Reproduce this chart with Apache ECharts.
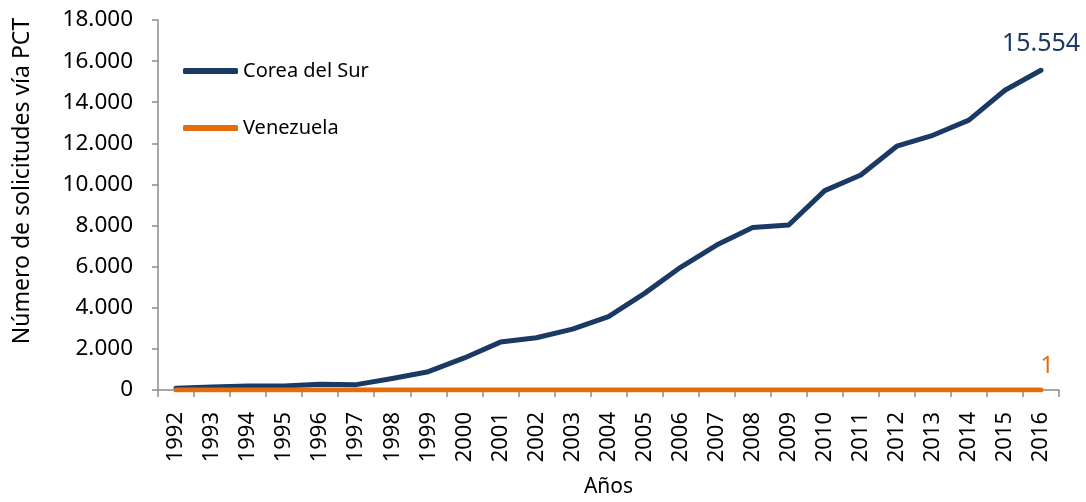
<!DOCTYPE html>
<html>
<head>
<meta charset="utf-8">
<style>
  html, body { margin: 0; padding: 0; background: #ffffff; }
  #chart { width: 1086px; height: 502px; }
</style>
<script src="https://cdn.jsdelivr.net/npm/echarts@6/dist/echarts.min.js"></script>
</head>
<body>
<div id="chart"></div>
<script>
// Solicitudes vía PCT por año
const years = ['1992','1993','1994','1995','1996','1997','1998','1999','2000','2001','2002','2003',
               '2004','2005','2006','2007','2008','2009','2010','2011','2012','2013','2014','2015','2016'];
const coreaDelSur = [80, 150, 190, 200, 280, 260, 560, 890, 1560, 2330, 2540, 2960,
                     3570, 4700, 5970, 7050, 7900, 8030, 9700, 10460, 11860, 12390, 13130, 14580, 15554];
const venezuela = [0, 0, 1, 0, 1, 2, 1, 1, 2, 3, 2, 1,
                   2, 3, 2, 4, 3, 2, 3, 2, 1, 2, 1, 2, 1];
const yTicks = { min: 0, max: 18000, interval: 2000 };

const FONT = '"Noto Sans", "Open Sans", sans-serif';
const NAVY = '#1B3A63';
const ORANGE = '#E46C0A';
const AXIS = '#8C8C8C';

function miles(v) {
  return String(v).replace(/\B(?=(\d{3})+(?!\d))/g, '.');
}

// value label drawn only at the last year of a series
function endLabel(color, fontSize, distance, offset) {
  return {
    show: true,
    position: 'top',
    distance: distance,
    offset: offset,
    color: color,
    fontFamily: FONT,
    fontSize: fontSize,
    formatter: p => (p.dataIndex === years.length - 1 ? miles(p.value) : '')
  };
}

const chart = echarts.init(document.getElementById('chart'), null, { renderer: 'canvas' });

chart.setOption({
  animation: false,
  backgroundColor: '#ffffff',
  grid: { left: 158, right: 27, top: 20, bottom: 112, containLabel: false, outerBoundsMode: 'none' },
  legend: {
    orient: 'vertical',
    left: 178,
    top: 56,
    itemWidth: 55,
    itemHeight: 6,
    itemGap: 37,
    icon: 'roundRect',
    textStyle: { fontFamily: FONT, fontSize: 20, color: '#000000' },
    data: ['Corea del Sur', 'Venezuela']
  },
  xAxis: {
    type: 'category',
    data: years,
    boundaryGap: true,
    name: 'Años',
    nameLocation: 'middle',
    nameGap: 87,
    nameTextStyle: { fontFamily: FONT, fontSize: 21, color: '#000000' },
    axisLine: { lineStyle: { color: AXIS, width: 1.5 } },
    axisTick: { show: true, length: 7, alignWithLabel: false, lineStyle: { color: AXIS, width: 1.5 } },
    axisLabel: {
      rotate: 90,
      interval: 0,
      margin: 22,
      fontFamily: FONT,
      fontSize: 22,
      color: '#000000'
    },
    splitLine: { show: false }
  },
  yAxis: {
    type: 'value',
    min: yTicks.min,
    max: yTicks.max,
    interval: yTicks.interval,
    axisLine: { show: true, lineStyle: { color: AXIS, width: 1.5 } },
    axisTick: { show: true, length: 6, lineStyle: { color: AXIS, width: 1.5 } },
    axisLabel: {
      margin: 25,
      fontFamily: FONT,
      fontSize: 22.5,
      color: '#000000',
      formatter: v => miles(v)
    },
    splitLine: { show: false }
  },
  graphic: [{
    type: 'text',
    x: 22,
    y: 181,
    rotation: Math.PI / 2,
    style: {
      text: 'Número de solicitudes vía PCT',
      fontFamily: FONT,
      fontSize: 23,
      fill: '#000000',
      align: 'center',
      verticalAlign: 'middle'
    }
  }],
  series: [
    {
      name: 'Corea del Sur',
      type: 'line',
      data: coreaDelSur,
      symbol: 'circle',
      symbolSize: 0,
      showSymbol: true,
      color: NAVY,
      lineStyle: { color: NAVY, width: 5, cap: 'round', join: 'round' },
      label: endLabel(NAVY, 25, 14, [0, 0]),
      z: 3
    },
    {
      name: 'Venezuela',
      type: 'line',
      data: venezuela,
      symbol: 'circle',
      symbolSize: 0,
      showSymbol: true,
      color: ORANGE,
      lineStyle: { color: ORANGE, width: 5, cap: 'round', join: 'round' },
      label: endLabel(ORANGE, 23, 12, [6, 0]),
      z: 4
    }
  ]
});
</script>
</body>
</html>
